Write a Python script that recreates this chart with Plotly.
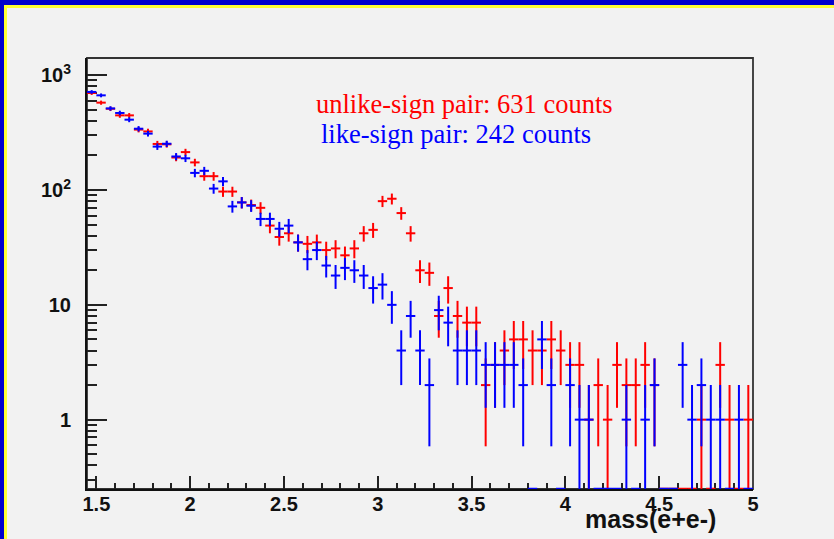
import numpy as np
import plotly.graph_objects as go

# ---------------- data ----------------
bin_low, bin_width, n_bins = 1.45, 0.05, 71
mass_centers = np.round(bin_low + bin_width * (np.arange(n_bins) + 0.5), 3)

unlike_counts = [700, 577, 510, 447, 447, 336, 324, 252, 250, 192, 214, 174, 132, 132, 97, 97, 78, 74,
                 70, 49, 39, 42, 35, 34, 35, 30, 31, 27, 31, 42, 45,
                 80, 84, 63, 42, 20, 19, 8, 14, 8, 7, 7,
                 2, 3, 4, 5, 5, 4, 4, 5, 4, 3, 3,
                 1, 2, 1, 3, 2, 2, 3, 2,
                 0, 0, 0, 0, 1, 0, 3, 1, 0, 1]
like_counts = [715, 668, 514, 469, 410, 342, 310, 239, 253, 196, 189, 141, 147, 103, 119, 72, 78, 73,
               56, 56, 46, 49, 35, 25, 30, 22, 18, 21, 20, 18, 14,
               15, 10, 4, 8, 4, 2, 9, 7, 4, 4, 4,
               3, 3, 3, 3, 2, 0, 5, 2, 0, 2, 1,
               1, 0, 0, 0, 1, 0, 1, 2,
               0, 0, 3, 1, 2, 1, 1, 0, 1, 0]

y_tick_vals = [1, 10, 100, 1000]
y_tick_text = ["1", "10", "10<sup>2</sup>", "10<sup>3</sup>"]
x_tick_vals = [1.5, 2.0, 2.5, 3.0, 3.5, 4.0, 4.5, 5.0]
x_tick_text = ["1.5", "2", "2.5", "3", "3.5", "4", "4.5", "5"]

label_unlike = "unlike-sign pair: 631 counts"
label_like = "like-sign pair: 242 counts"
x_title = "mass(e+e-)"

# ---------------- layout geometry ----------------
W, H = 834, 539
ML, MR, MT, MB = 87, 81, 58, 50
x_range = [1.45, 5.0]
y_log_range = [-0.604, 3.15]
floor_val = 10 ** y_log_range[0]


def px(x):
    return (x - ML) / (W - ML - MR)


def py(y):
    return (H - MB - y) / (H - MT - MB)


fig = go.Figure()


def add_hist(counts, color, name):
    counts = np.asarray(counts, dtype=float)
    nz = counts > 0
    fig.add_trace(go.Scatter(
        x=mass_centers[nz], y=counts[nz], mode="markers", name=name,
        marker=dict(size=1, color=color, opacity=0),
        error_y=dict(type="data", array=np.sqrt(counts[nz]), color=color, thickness=2, width=0),
        error_x=dict(type="constant", value=bin_width / 2, color=color, thickness=2, width=0),
        showlegend=False, hoverinfo="skip"))
    z = ~nz
    fig.add_trace(go.Scatter(
        x=mass_centers[z], y=np.full(z.sum(), floor_val), mode="markers", name=name + " (0)",
        marker=dict(size=1, color=color, opacity=0),
        error_x=dict(type="constant", value=bin_width / 2, color=color, thickness=2.5, width=0),
        showlegend=False, hoverinfo="skip"))


add_hist(unlike_counts, "#ff0000", "unlike-sign")
add_hist(like_counts, "#0000ff", "like-sign")

minor_y = [k * 10 ** n for n in range(-1, 4) for k in range(2, 10)]

tick_font = dict(family="Liberation Sans", size=20, color="#111111", weight="bold")

fig.update_layout(
    width=W, height=H,
    margin=dict(l=ML, r=MR, t=MT, b=MB, pad=0),
    paper_bgcolor="#f2f2f2", plot_bgcolor="#f2f2f2",
    showlegend=False,
    xaxis=dict(range=x_range, showgrid=False, zeroline=False,
               showline=True, linecolor="#111111", linewidth=2,
               ticks="inside", ticklen=13, tickwidth=1.5, tickcolor="#222222",
               tickvals=x_tick_vals, ticktext=x_tick_text, tickfont=tick_font,
               ticklabelstandoff=-4,
               minor=dict(ticks="inside", ticklen=6, tickwidth=1.5, tickcolor="#222222",
                          tick0=1.5, dtick=0.1, showgrid=False),
               layer="below traces"),
    yaxis=dict(type="log", range=y_log_range, showgrid=False, zeroline=False,
               showline=True, linecolor="#111111", linewidth=2,
               ticks="inside", ticklen=20, tickwidth=1.5, tickcolor="#222222",
               tickvals=y_tick_vals, ticktext=y_tick_text, tickfont=tick_font,
               ticklabelstandoff=10,
               minor=dict(ticks="inside", ticklen=10, tickwidth=1.5, tickcolor="#222222",
                          tickvals=minor_y, showgrid=False),
               layer="below traces"),
)

shapes = [
    # plot frame (top / right)
    dict(type="rect", xref="paper", yref="paper", x0=0, x1=1, y0=0, y1=1,
         line=dict(color="#333333", width=1.8), fillcolor="rgba(0,0,0,0)", layer="below"),
    # slide border: blue then yellow
    dict(type="rect", xref="paper", yref="paper", x0=px(0), x1=px(W), y0=py(5), y1=py(0),
         line=dict(width=0), fillcolor="#0000cc"),
    dict(type="rect", xref="paper", yref="paper", x0=px(0), x1=px(4), y0=py(H), y1=py(0),
         line=dict(width=0), fillcolor="#0000cc"),
    dict(type="rect", xref="paper", yref="paper", x0=px(4), x1=px(W), y0=py(8), y1=py(5),
         line=dict(width=0), fillcolor="#ffff33"),
    dict(type="rect", xref="paper", yref="paper", x0=px(4), x1=px(7), y0=py(H), y1=py(5),
         line=dict(width=0), fillcolor="#ffff33"),
]
fig.update_layout(shapes=shapes)

fig.add_annotation(x=px(314), y=py(104), xref="paper", yref="paper", text=label_unlike,
                   showarrow=False, xanchor="left", yanchor="middle",
                   font=dict(family="Liberation Serif", size=26.5, color="#ff0000"))
fig.add_annotation(x=px(319), y=py(134), xref="paper", yref="paper", text=label_like,
                   showarrow=False, xanchor="left", yanchor="middle",
                   font=dict(family="Liberation Serif", size=26.5, color="#0000ff"))
fig.add_annotation(x=px(718), y=py(519), xref="paper", yref="paper", text=x_title,
                   showarrow=False, xanchor="right", yanchor="middle",
                   font=dict(family="Liberation Sans", size=25, color="#111111", weight="bold"))

fig.write_html("out.html")
